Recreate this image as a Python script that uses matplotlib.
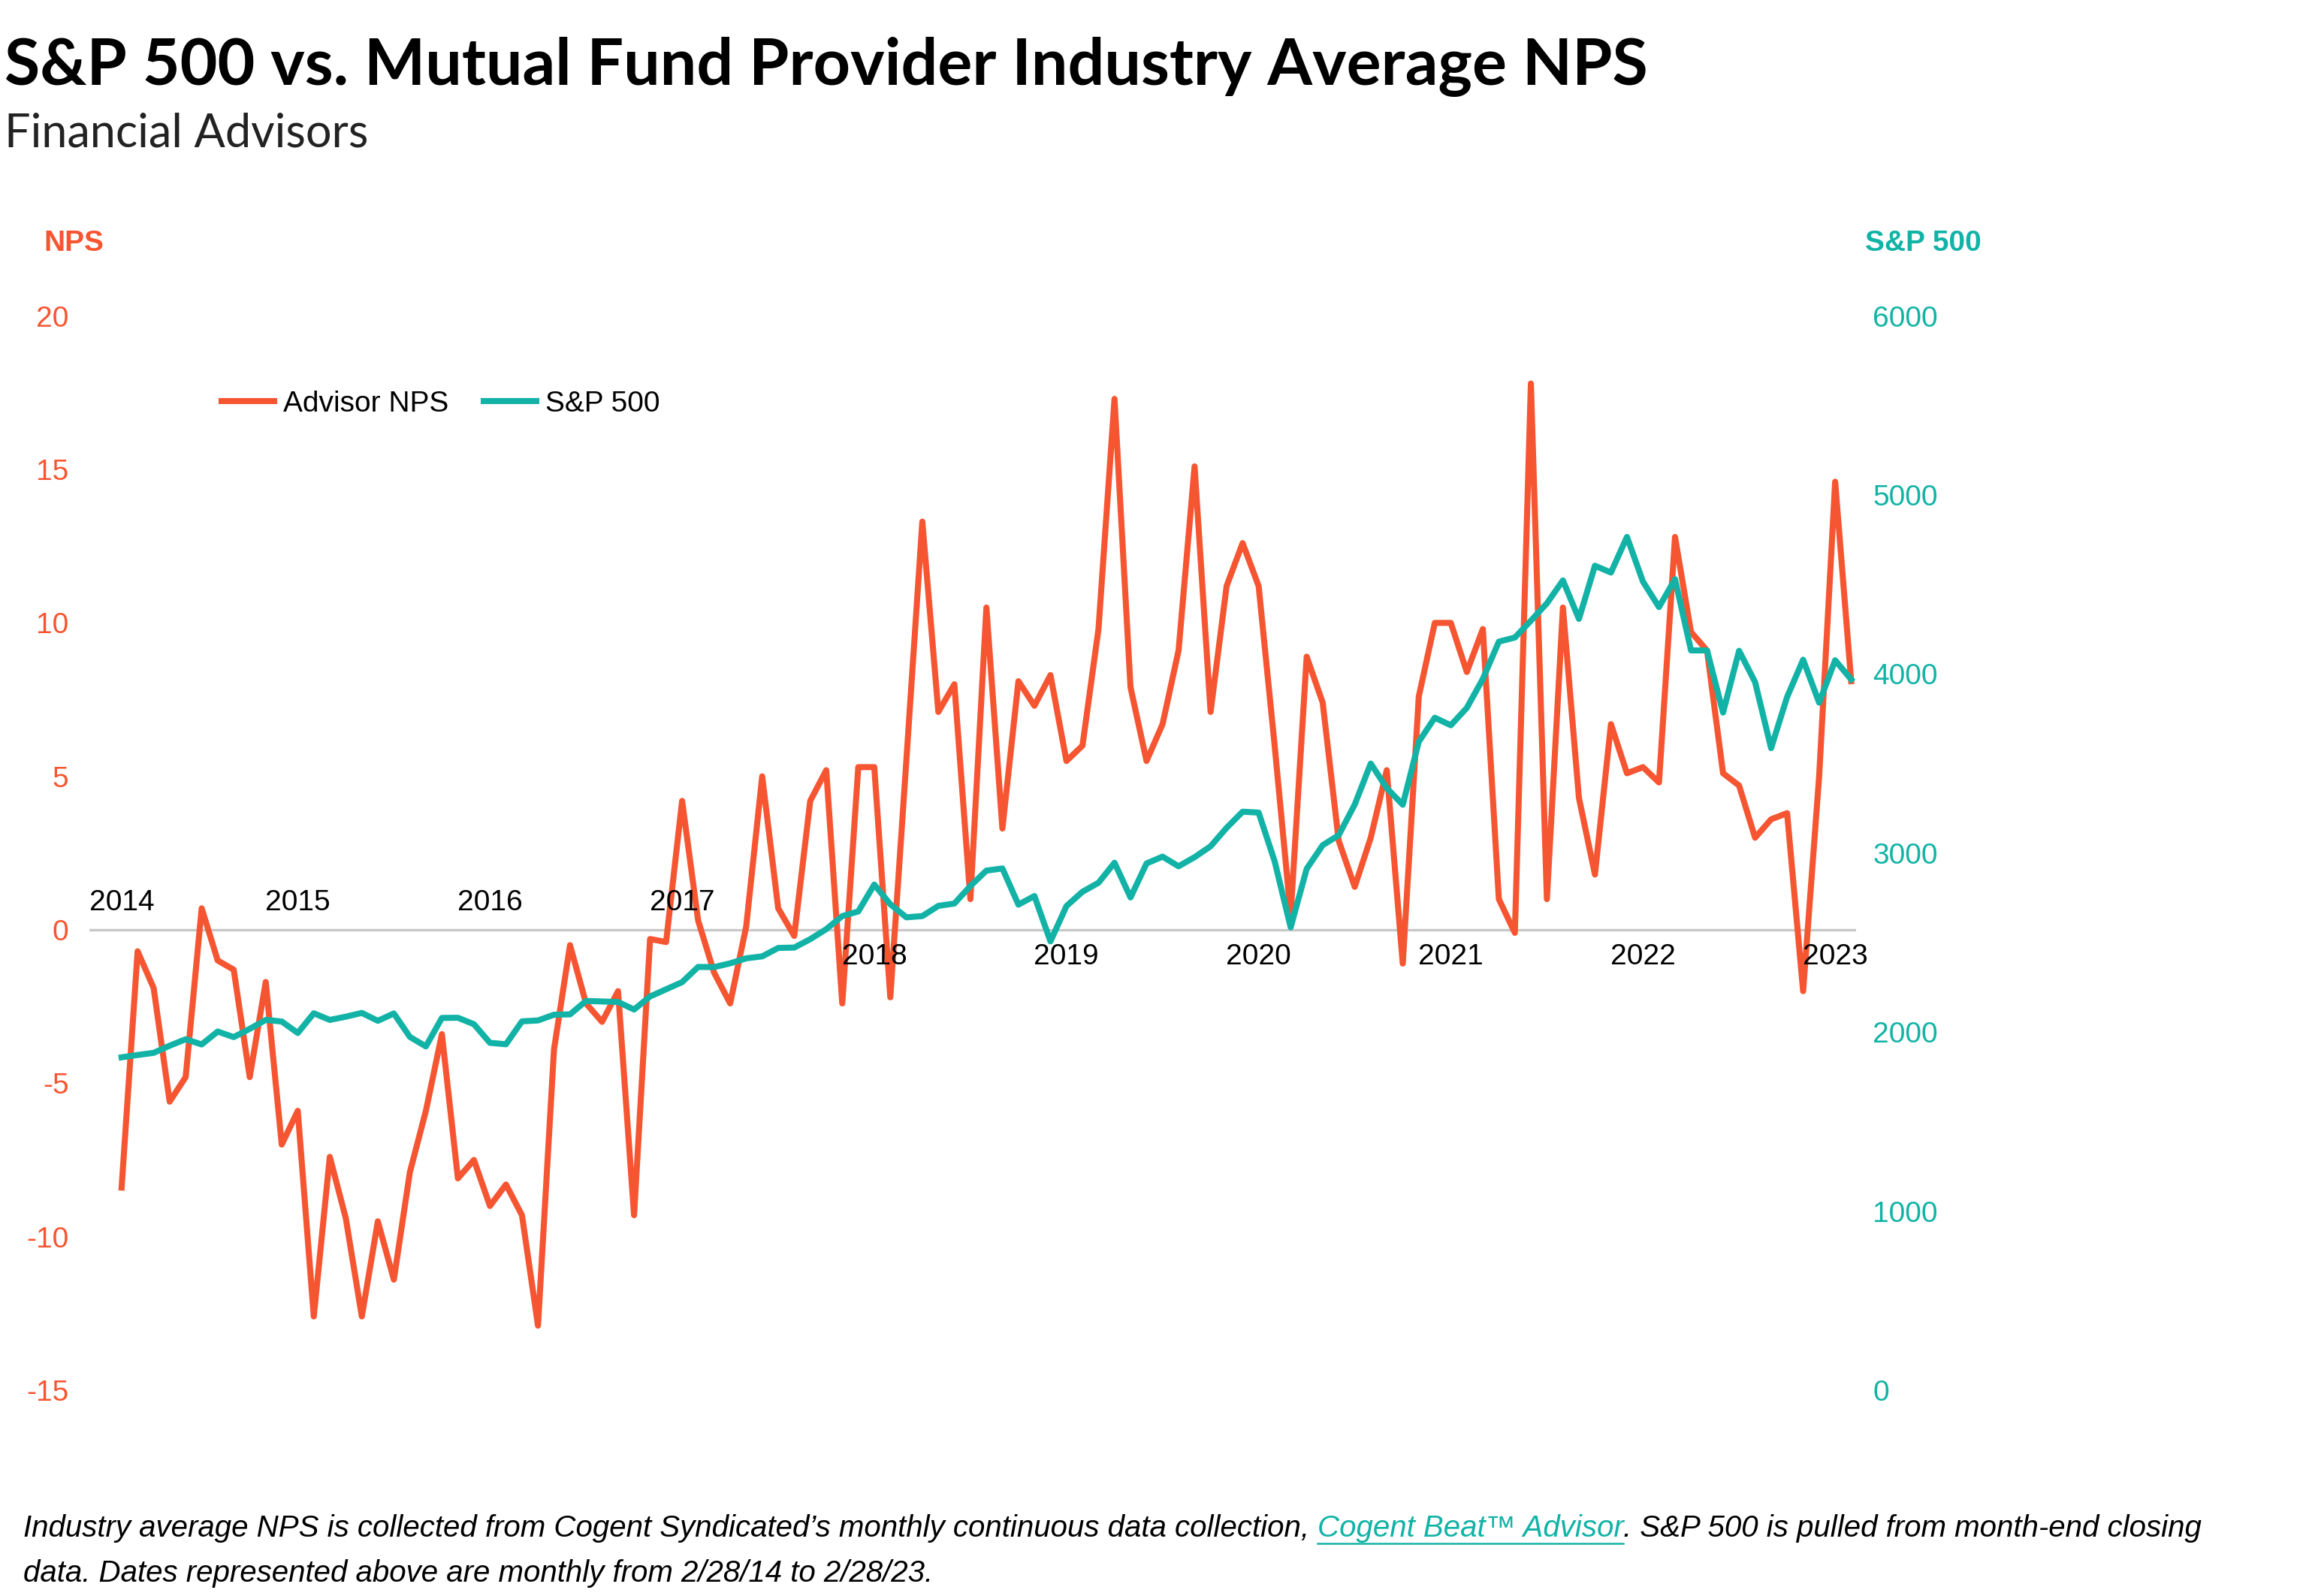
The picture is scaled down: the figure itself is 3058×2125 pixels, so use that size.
import matplotlib
matplotlib.use("Agg")
import matplotlib.pyplot as plt
import numpy as np

ORANGE = "#F65532"
TEAL = "#12B3A6"

# monthly, Feb 2014 .. Feb 2023
nps = [
    -8.4, -0.7, -1.9, -5.6, -4.8, 0.7, -1.0, -1.3, -4.8, -1.7, -7.0,
    -5.9, -12.6, -7.4, -9.4, -12.6, -9.5, -11.4, -7.9, -5.9, -3.4, -8.1, -7.5,
    -9.0, -8.3, -9.3, -12.9, -3.9, -0.5, -2.4, -3.0, -2.0, -9.3, -0.3, -0.4,
    4.2, 0.3, -1.4, -2.4, 0.1, 5.0, 0.7, -0.2, 4.2, 5.2, -2.4, 5.3,
    5.3, -2.2, 5.5, 13.3, 7.1, 8.0, 1.0, 10.5, 3.3, 8.1, 7.3, 8.3,
    5.5, 6.0, 9.8, 17.3, 7.9, 5.5, 6.7, 9.1, 15.1, 7.1, 11.2, 12.6,
    11.2, 6.0, 0.5, 8.9, 7.4, 2.9, 1.4, 3.0, 5.2, -1.1, 7.6, 10.0,
    10.0, 8.4, 9.8, 1.0, -0.1, 17.8, 1.0, 10.5, 4.3, 1.8, 6.7, 5.1,
    5.3, 4.8, 12.8, 9.7, 9.1, 5.1, 4.7, 3.0, 3.6, 3.8, -2.0, 5.0,
    14.6, 8.1,
]
sp500 = [
    1859, 1872, 1884, 1924, 1960, 1931, 2003, 1972, 2018, 2068, 2059,
    1995, 2105, 2068, 2086, 2107, 2063, 2104, 1973, 1920, 2079, 2080, 2044,
    1940, 1932, 2060, 2065, 2097, 2099, 2174, 2171, 2168, 2126, 2199, 2239,
    2279, 2364, 2363, 2384, 2412, 2423, 2470, 2472, 2519, 2575, 2648, 2674,
    2824, 2714, 2641, 2648, 2705, 2718, 2816, 2902, 2914, 2712, 2760, 2507,
    2704, 2784, 2834, 2946, 2752, 2942, 2980, 2926, 2977, 3038, 3141, 3231,
    3226, 2954, 2585, 2912, 3044, 3100, 3271, 3500, 3363, 3270, 3622, 3756,
    3714, 3811, 3973, 4181, 4204, 4298, 4395, 4523, 4308, 4605, 4567, 4766,
    4516, 4374, 4530, 4132, 4132, 3785, 4130, 3955, 3586, 3872, 4080, 3840,
    4077, 3970,
]
years = ["2014", "2015", "2016", "2017", "2018", "2019", "2020", "2021", "2022", "2023"]
nps_ticks = [-15, -10, -5, 0, 5, 10, 15, 20]
sp_ticks = [0, 1000, 2000, 3000, 4000, 5000, 6000]

x = np.arange(len(nps))

plt.rcParams["font.family"] = "Liberation Sans"
plt.rcParams["axes.unicode_minus"] = False
fig = plt.figure(figsize=(15.29, 10.625), dpi=200)
ax = fig.add_axes([0.039, 0.129, 0.769, 0.673])
ax2 = ax.twinx()

ax.set_xlim(-2, 108.3)
ax.set_ylim(-15, 20)
ax2.set_ylim(0, 6000)
ax.axhline(0, color="#c8c8c8", lw=1.2, zorder=1)

l1, = ax.plot(x, nps, color=ORANGE, lw=2.9, label="Advisor NPS", zorder=3)
l2, = ax2.plot(x, sp500, color=TEAL, lw=2.9, label="S&P 500", zorder=3)

for a in (ax, ax2):
    for s in a.spines.values():
        s.set_visible(False)
    a.set_xticks([])
ax.set_yticks(nps_ticks)
ax.tick_params(axis="y", length=0, labelsize=14, labelcolor=ORANGE, pad=10)
ax2.set_yticks(sp_ticks)
ax2.tick_params(axis="y", length=0, labelsize=14, labelcolor=TEAL, pad=8)

# year labels along zero line: above for early years, below for later
for i, yr in enumerate(years):
    xi = 0 if i == 0 else 11 + 12 * (i - 1)
    yy = 0.45 if i < 4 else -0.45
    ax.text(xi, yy, yr, ha="center", va="bottom" if i < 4 else "top", fontsize=14)

ax.legend(handles=[l1, l2], loc="upper left", bbox_to_anchor=(0.06, 0.955),
          ncol=2, frameon=False, fontsize=14, handlelength=1.8,
          handletextpad=0.3, columnspacing=1.2)

fig.text(0.019, 0.843, "NPS", color=ORANGE, fontsize=14, fontweight="bold")
fig.text(0.812, 0.843, "S&P 500", color=TEAL, fontsize=14, fontweight="bold")

fig.text(0.002, 0.947, "S&P 500 vs. Mutual Fund Provider Industry Average NPS",
         fontsize=31, fontweight="bold", family="Lato")
fig.text(0.002, 0.908, "Financial Advisors", fontsize=22, family="Lato",
         color="#222222")

# footnote with link-styled segment
r = fig.canvas.get_renderer()
fx, fy = 0.010, 0.037
parts = [("Industry average NPS is collected from Cogent Syndicated\u2019s monthly continuous data collection, ", "black", False),
         ("Cogent Beat\u2122 Advisor", TEAL, True),
         (". S&P 500 is pulled from month-end closing", "black", False)]
W = fig.get_figwidth() * fig.dpi
for txt, col, ul in parts:
    t = fig.text(fx, fy, txt, fontsize=14.5, style="italic", color=col,
                 family="DejaVu Sans" if False else "Liberation Sans")
    bb = t.get_window_extent(renderer=r)
    if ul:
        fig.add_artist(plt.Line2D([fx, fx + bb.width / W], [fy - 0.004, fy - 0.004],
                                  color=col, lw=0.9, transform=fig.transFigure))
    fx += bb.width / W
fig.text(0.010, 0.009, "data. Dates represented above are monthly from 2/28/14 to 2/28/23.",
         fontsize=14.5, style="italic")

fig.savefig("out.png", dpi=200, facecolor="white")
